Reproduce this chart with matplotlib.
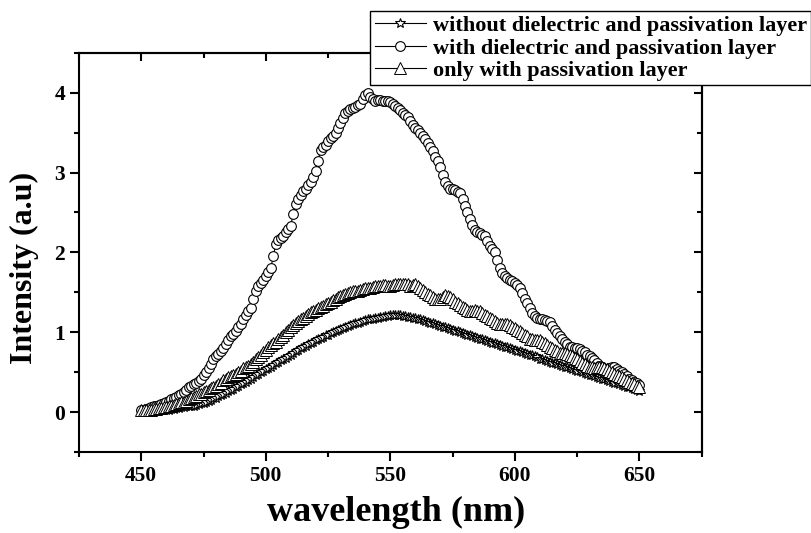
import numpy as np
import matplotlib
matplotlib.use('Agg')
import matplotlib.pyplot as plt
from matplotlib.ticker import MultipleLocator

plt.rcParams['font.family'] = ['Liberation Serif', 'DejaVu Serif']
plt.rcParams['font.weight'] = 'bold'

# wavelength grid (nm), 1 nm steps
wavelength = np.arange(450, 651, 1)

# without dielectric and passivation layer (stars)
no_layer = [
    0.00, 0.00, 0.00, 0.01, 0.01, 0.01, 0.01, 0.02, 0.02, 0.03,
    0.03, 0.03, 0.04, 0.04, 0.05, 0.05, 0.06, 0.06, 0.07, 0.07,
    0.08, 0.08, 0.09, 0.10, 0.11, 0.11, 0.12, 0.14, 0.15, 0.17,
    0.18, 0.20, 0.21, 0.23, 0.24, 0.26, 0.28, 0.29, 0.31, 0.33,
    0.35, 0.36, 0.38, 0.40, 0.42, 0.44, 0.46, 0.48, 0.50, 0.52,
    0.54, 0.55, 0.57, 0.59, 0.61, 0.63, 0.65, 0.66, 0.68, 0.70,
    0.72, 0.74, 0.76, 0.78, 0.80, 0.81, 0.83, 0.85, 0.87, 0.88,
    0.90, 0.91, 0.93, 0.94, 0.96, 0.97, 0.99, 1.00, 1.02, 1.03,
    1.04, 1.05, 1.07, 1.08, 1.09, 1.10, 1.11, 1.12, 1.13, 1.14,
    1.15, 1.16, 1.17, 1.17, 1.18, 1.18, 1.19, 1.19, 1.20, 1.20,
    1.21, 1.21, 1.21, 1.21, 1.21, 1.20, 1.20, 1.19, 1.19, 1.18,
    1.18, 1.17, 1.16, 1.15, 1.14, 1.13, 1.12, 1.11, 1.10, 1.09,
    1.08, 1.07, 1.06, 1.05, 1.04, 1.03, 1.02, 1.01, 1.00, 0.99,
    0.98, 0.97, 0.96, 0.95, 0.94, 0.93, 0.92, 0.91, 0.90, 0.89,
    0.88, 0.87, 0.86, 0.85, 0.84, 0.83, 0.82, 0.81, 0.80, 0.79,
    0.78, 0.77, 0.76, 0.75, 0.74, 0.73, 0.72, 0.71, 0.70, 0.69,
    0.67, 0.66, 0.65, 0.64, 0.63, 0.62, 0.61, 0.60, 0.59, 0.58,
    0.57, 0.56, 0.55, 0.54, 0.53, 0.52, 0.51, 0.50, 0.49, 0.48,
    0.47, 0.46, 0.45, 0.44, 0.43, 0.42, 0.41, 0.40, 0.39, 0.38,
    0.37, 0.36, 0.35, 0.34, 0.33, 0.32, 0.31, 0.30, 0.29, 0.28,
    0.26,
]

# with dielectric and passivation layer (circles)
both_layers = [
    0.03, 0.03, 0.04, 0.05, 0.06, 0.07, 0.08, 0.09, 0.10, 0.11,
    0.13, 0.14, 0.16, 0.17, 0.19, 0.21, 0.23, 0.25, 0.28, 0.31,
    0.33, 0.35, 0.37, 0.39, 0.42, 0.46, 0.50, 0.55, 0.60, 0.66,
    0.70, 0.73, 0.76, 0.80, 0.85, 0.90, 0.95, 0.98, 1.02, 1.06,
    1.10, 1.16, 1.22, 1.26, 1.30, 1.42, 1.52, 1.58, 1.62, 1.66,
    1.70, 1.75, 1.80, 1.95, 2.10, 2.15, 2.18, 2.21, 2.25, 2.29,
    2.33, 2.48, 2.60, 2.67, 2.72, 2.77, 2.80, 2.84, 2.88, 2.94,
    3.02, 3.15, 3.28, 3.32, 3.35, 3.39, 3.43, 3.46, 3.50, 3.56,
    3.62, 3.68, 3.74, 3.77, 3.80, 3.81, 3.82, 3.84, 3.86, 3.92,
    3.97, 4.00, 3.95, 3.92, 3.90, 3.91, 3.91, 3.90, 3.89, 3.89,
    3.88, 3.86, 3.83, 3.81, 3.78, 3.75, 3.72, 3.69, 3.65, 3.60,
    3.56, 3.53, 3.50, 3.46, 3.42, 3.37, 3.32, 3.27, 3.20, 3.14,
    3.07, 2.97, 2.88, 2.83, 2.80, 2.79, 2.78, 2.76, 2.74, 2.67,
    2.58, 2.50, 2.42, 2.34, 2.28, 2.26, 2.24, 2.22, 2.20, 2.14,
    2.08, 2.04, 2.00, 1.90, 1.80, 1.74, 1.70, 1.68, 1.66, 1.64,
    1.62, 1.59, 1.55, 1.49, 1.42, 1.36, 1.30, 1.24, 1.20, 1.18,
    1.17, 1.16, 1.15, 1.14, 1.13, 1.08, 1.03, 0.99, 0.95, 0.91,
    0.88, 0.85, 0.82, 0.81, 0.80, 0.80, 0.79, 0.77, 0.75, 0.72,
    0.70, 0.68, 0.65, 0.61, 0.58, 0.56, 0.54, 0.54, 0.55, 0.56,
    0.56, 0.54, 0.52, 0.50, 0.48, 0.45, 0.42, 0.40, 0.38, 0.36,
    0.34,
]

# only with passivation layer (triangles)
passivation = [
    0.02, 0.02, 0.02, 0.03, 0.03, 0.04, 0.04, 0.05, 0.05, 0.06,
    0.06, 0.07, 0.08, 0.09, 0.10, 0.11, 0.12, 0.13, 0.14, 0.16,
    0.17, 0.19, 0.20, 0.22, 0.23, 0.25, 0.26, 0.28, 0.30, 0.32,
    0.33, 0.35, 0.37, 0.40, 0.42, 0.44, 0.45, 0.47, 0.48, 0.50,
    0.52, 0.55, 0.57, 0.58, 0.60, 0.63, 0.66, 0.69, 0.72, 0.75,
    0.78, 0.81, 0.84, 0.86, 0.88, 0.91, 0.94, 0.97, 1.00, 1.03,
    1.06, 1.09, 1.12, 1.14, 1.16, 1.18, 1.20, 1.23, 1.25, 1.27,
    1.28, 1.30, 1.31, 1.33, 1.35, 1.37, 1.38, 1.40, 1.42, 1.44,
    1.45, 1.47, 1.48, 1.49, 1.50, 1.51, 1.51, 1.52, 1.53, 1.54,
    1.55, 1.56, 1.56, 1.57, 1.58, 1.58, 1.58, 1.59, 1.59, 1.58,
    1.58, 1.59, 1.60, 1.60, 1.60, 1.61, 1.61, 1.60, 1.58, 1.59,
    1.60, 1.58, 1.56, 1.53, 1.50, 1.48, 1.46, 1.44, 1.42, 1.42,
    1.42, 1.44, 1.46, 1.45, 1.44, 1.41, 1.38, 1.36, 1.34, 1.32,
    1.30, 1.28, 1.26, 1.27, 1.28, 1.27, 1.26, 1.24, 1.22, 1.20,
    1.18, 1.16, 1.14, 1.12, 1.10, 1.10, 1.10, 1.10, 1.09, 1.07,
    1.05, 1.03, 1.01, 0.99, 0.97, 0.95, 0.92, 0.91, 0.90, 0.90,
    0.90, 0.88, 0.86, 0.84, 0.82, 0.80, 0.78, 0.76, 0.74, 0.74,
    0.74, 0.73, 0.72, 0.70, 0.68, 0.66, 0.64, 0.62, 0.60, 0.58,
    0.57, 0.56, 0.55, 0.56, 0.56, 0.56, 0.55, 0.54, 0.52, 0.50,
    0.48, 0.47, 0.45, 0.44, 0.42, 0.40, 0.38, 0.37, 0.35, 0.33,
    0.31,
]

labels = [
    'without dielectric and passivation layer',
    'with dielectric and passivation layer',
    'only with passivation layer',
]

fig = plt.figure(figsize=(8.12, 5.33), dpi=100)
ax = fig.add_axes([0.0973, 0.152, 0.7667, 0.749])

ax.plot(wavelength, no_layer, color='black', lw=0.8, marker='*', ms=7,
        mfc='white', mec='black', mew=0.8, label=labels[0])
ax.plot(wavelength, both_layers, color='black', lw=0.8, marker='o', ms=7,
        mfc='white', mec='black', mew=0.8, label=labels[1])
ax.plot(wavelength, passivation, color='black', lw=0.8, marker='^', ms=8,
        mfc='white', mec='black', mew=0.7, label=labels[2])

ax.set_xlim(425, 675)
ax.set_ylim(-0.5, 4.5)
ax.xaxis.set_major_locator(MultipleLocator(50))
ax.xaxis.set_minor_locator(MultipleLocator(25))
ax.yaxis.set_major_locator(MultipleLocator(1))
ax.yaxis.set_minor_locator(MultipleLocator(0.5))

for side in ['left', 'right', 'top', 'bottom']:
    ax.spines[side].set_linewidth(1.5)

ax.tick_params(which='both', direction='out', width=1.5, labelsize=15.5,
               top=False, right=False)
ax.tick_params(which='major', length=6.5)
ax.tick_params(which='minor', length=3.5)

# inward ticks on top and right like the original
ax2 = ax.secondary_xaxis('top')
ax2.xaxis.set_major_locator(MultipleLocator(50))
ax2.xaxis.set_minor_locator(MultipleLocator(25))
ax2.tick_params(which='both', direction='in', width=1.5, labeltop=False)
ax2.tick_params(which='major', length=6)
ax2.tick_params(which='minor', length=3.5)
ax2.spines['top'].set_linewidth(1.5)
ay2 = ax.secondary_yaxis('right')
ay2.yaxis.set_major_locator(MultipleLocator(1))
ay2.yaxis.set_minor_locator(MultipleLocator(0.5))
ay2.tick_params(which='both', direction='in', width=1.5, labelright=False)
ay2.tick_params(which='major', length=6)
ay2.tick_params(which='minor', length=3.5)
ay2.spines['right'].set_linewidth(1.5)

for lab in ax.get_xticklabels() + ax.get_yticklabels():
    lab.set_fontweight('bold')

ax.set_xlabel('wavelength (nm)', fontsize=26, fontweight='bold')
ax.xaxis.set_label_coords(0.51, -0.11)
ax.set_ylabel('Intensity (a.u)', fontsize=23, fontweight='bold')
ax.yaxis.set_label_coords(-0.064, 0.462)

leg = ax.legend(loc='upper right', bbox_to_anchor=(0.999, 0.979),
                bbox_transform=fig.transFigure, fontsize=16, frameon=True,
                fancybox=False, edgecolor='black', framealpha=1,
                borderaxespad=0, borderpad=0.2, labelspacing=0.08,
                handlelength=2.3, handletextpad=0.3, markerscale=1.0)
leg.get_frame().set_linewidth(1.0)
for t in leg.get_texts():
    t.set_fontweight('bold')

fig.savefig('out.png', dpi=100)
